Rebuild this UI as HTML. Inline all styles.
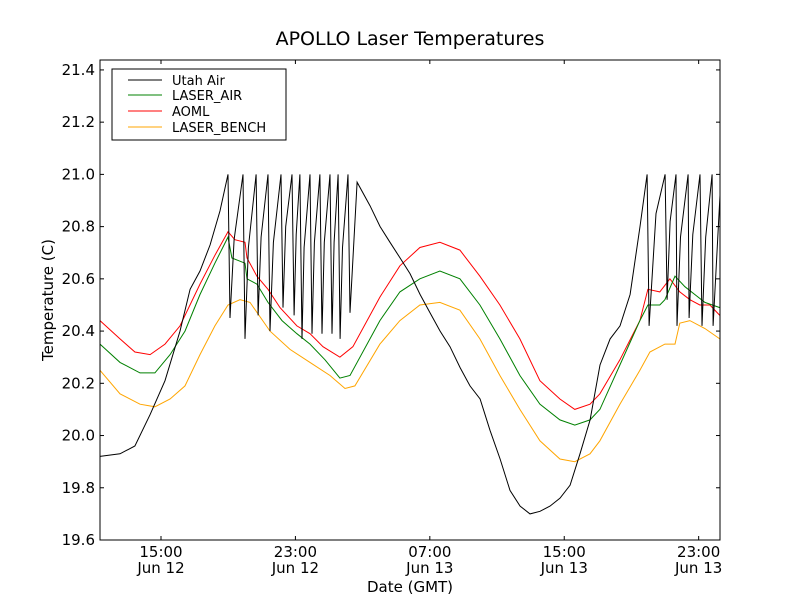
<!DOCTYPE html>
<html><head><meta charset="utf-8"><style>
body{margin:0;background:#fff;}
svg{display:block;font-family:"DejaVu Sans","Liberation Sans",sans-serif;}
</style></head><body>
<svg id="chart" width="800" height="600">
<rect width="800" height="600" fill="#fff"/>
<text x="410" y="45" font-size="19" text-anchor="middle">APOLLO Laser Temperatures</text>
<g id="series"></g>
<g id="axes"></g>
<rect x="100" y="60" width="620" height="480" fill="none" stroke="#000" stroke-width="1"/>
<text x="410" y="592" font-size="15" text-anchor="middle">Date (GMT)</text>
<text transform="translate(53,300) rotate(-90)" font-size="15" text-anchor="middle">Temperature (C)</text>
<g>
<rect x="112" y="69" width="174" height="71" fill="#fff" stroke="#000"/>
<g><line x1="128" y1="80" x2="162" y2="80" stroke="#000"/><text x="172" y="85" font-size="13">Utah Air</text></g>
<g><line x1="128" y1="95" x2="162" y2="95" stroke="green"/><text x="172" y="100" font-size="13">LASER_AIR</text></g>
<g><line x1="128" y1="111" x2="162" y2="111" stroke="red"/><text x="172" y="116" font-size="13">AOML</text></g>
<g><line x1="128" y1="127" x2="162" y2="127" stroke="orange"/><text x="172" y="132" font-size="13">LASER_BENCH</text></g>
</g>
</svg>
<script>
const xTicks=[15,23,31,39,47];
const xTickTime=["15:00","23:00","07:00","15:00","23:00"];
const xTickDate=["Jun 12","Jun 12","Jun 13","Jun 13","Jun 13"];
const yTicks=[19.6,19.8,20.0,20.2,20.4,20.6,20.8,21.0,21.2,21.4];
const utahT=[11.37,12.56,13.45,14.35,15.24,16.13,16.73,17.32,17.92,18.51,18.99,19.11,19.35,19.88,20.00,20.20,20.66,20.78,20.96,21.37,21.49,21.69,22.14,22.26,22.42,22.80,22.92,23.05,23.27,23.39,23.52,23.87,23.99,24.13,24.46,24.58,24.72,25.06,25.18,25.30,25.54,25.66,25.80,26.13,26.25,26.67,27.44,28.04,28.63,29.23,29.82,30.42,31.01,31.61,32.20,32.80,33.39,33.99,34.58,35.18,35.77,36.37,36.96,37.56,38.15,38.75,39.35,39.94,40.54,41.13,41.73,42.32,42.92,43.51,43.93,44.05,44.46,45.00,45.12,45.30,45.65,45.71,45.92,46.37,46.43,46.65,47.08,47.20,47.42,47.80,47.86,48.27];
const utahV=[19.92,19.93,19.96,20.08,20.21,20.40,20.56,20.63,20.73,20.86,21.00,20.45,20.75,21.00,20.37,20.72,21.00,20.46,20.76,21.00,20.40,20.74,21.00,20.49,20.80,21.00,20.46,20.77,21.00,20.37,20.72,21.00,20.39,20.74,21.00,20.39,20.74,21.00,20.39,20.74,21.00,20.37,20.72,21.00,20.47,20.97,20.88,20.80,20.74,20.68,20.62,20.54,20.47,20.40,20.34,20.26,20.19,20.14,20.02,19.91,19.79,19.73,19.70,19.71,19.73,19.76,19.81,19.93,20.06,20.27,20.37,20.42,20.54,20.80,21.00,20.42,20.85,21.00,20.52,20.82,21.00,20.42,20.76,21.00,20.45,20.77,21.00,20.42,20.76,21.00,20.42,20.92];
const aomlT=[11.37,12.56,13.45,14.35,15.24,16.13,17.32,18.21,18.99,19.40,20.00,20.12,20.71,21.37,22.08,23.09,23.87,24.64,25.65,26.42,28.03,29.22,30.41,31.60,32.79,33.98,35.17,36.36,37.55,38.74,39.63,40.53,41.12,42.31,43.50,43.98,44.69,45.29,45.88,46.48,47.07,47.67,48.26];
const aomlV=[20.44,20.37,20.32,20.31,20.35,20.42,20.58,20.69,20.78,20.75,20.74,20.68,20.61,20.56,20.49,20.42,20.39,20.34,20.30,20.34,20.53,20.65,20.72,20.74,20.71,20.61,20.50,20.37,20.21,20.14,20.10,20.12,20.16,20.29,20.44,20.56,20.55,20.60,20.55,20.52,20.50,20.50,20.46];
const airT=[11.37,12.56,13.75,14.64,15.54,16.43,17.32,18.21,18.99,19.22,20.00,20.12,20.71,21.37,22.20,23.09,23.87,24.76,25.65,26.25,28.03,29.22,30.41,31.60,32.79,33.98,35.17,36.36,37.55,38.74,39.63,40.53,41.12,42.31,43.50,43.98,44.69,44.99,45.59,46.18,46.77,47.37,48.26];
const airV=[20.35,20.28,20.24,20.24,20.31,20.40,20.54,20.66,20.76,20.68,20.66,20.60,20.58,20.51,20.44,20.39,20.35,20.29,20.22,20.23,20.44,20.55,20.60,20.63,20.60,20.50,20.37,20.23,20.12,20.06,20.04,20.06,20.10,20.27,20.44,20.50,20.50,20.52,20.61,20.57,20.54,20.51,20.49];
const benchT=[11.37,12.56,13.75,14.64,15.54,16.43,17.32,18.21,18.99,19.70,20.30,21.49,22.68,23.87,25.06,25.95,26.54,28.03,29.22,30.41,31.60,32.79,33.98,35.17,36.36,37.55,38.74,39.63,40.53,41.12,42.31,43.50,44.10,44.99,45.59,45.88,46.48,47.37,48.26];
const benchV=[20.25,20.16,20.12,20.11,20.14,20.19,20.31,20.42,20.50,20.52,20.51,20.40,20.33,20.28,20.23,20.18,20.19,20.35,20.44,20.50,20.51,20.48,20.37,20.23,20.10,19.98,19.91,19.90,19.93,19.98,20.12,20.25,20.32,20.35,20.35,20.43,20.44,20.41,20.37];
const NS="http://www.w3.org/2000/svg";
const X0=11.37,X1=48.27,Y0=19.6,Y1=21.438;
function sx(t){return 100+(t-X0)/(X1-X0)*620;}
function sy(v){return 540-(v-Y0)/(Y1-Y0)*480;}
const sg=document.getElementById('series'),ag=document.getElementById('axes');
function mk(tag,attrs,parent){const e=document.createElementNS(NS,tag);for(const k in attrs)e.setAttribute(k,attrs[k]);parent.appendChild(e);return e;}
function line(ts,vs,color,name){
  const d=ts.map((t,i)=>(i?'L':'M')+sx(t).toFixed(1)+','+sy(vs[i]).toFixed(1)).join('');
  const p=mk('path',{d:d,fill:'none',stroke:color,'stroke-width':1},sg);
  
  
}
line(benchT,benchV,'orange','laser-bench-line');
line(aomlT,aomlV,'red','aoml-line');
line(airT,airV,'green','laser-air-line');
line(utahT,utahV,'#000','utah-air-line');
yTicks.forEach(v=>{
  const y=sy(v);
  mk('line',{x1:100,y1:y,x2:104,y2:y,stroke:'#000'},ag);
  mk('line',{x1:716,y1:y,x2:720,y2:y,stroke:'#000'},ag);
  const t=mk('text',{x:95,y:y+5,'font-size':15,'text-anchor':'end'},ag);
  t.textContent=v.toFixed(1);
  
  
});
xTicks.forEach((h,i)=>{
  const x=sx(h);
  mk('line',{x1:x,y1:540,x2:x,y2:536,stroke:'#000'},ag);
  mk('line',{x1:x,y1:60,x2:x,y2:64,stroke:'#000'},ag);
  const t=mk('text',{x:x,y:557,'font-size':15,'text-anchor':'middle'},ag);
  t.textContent=xTickTime[i];
  
  
  const d=mk('text',{x:x,y:573,'font-size':15,'text-anchor':'middle'},ag);
  d.textContent=xTickDate[i];
  
  
});
</script>
</body></html>
